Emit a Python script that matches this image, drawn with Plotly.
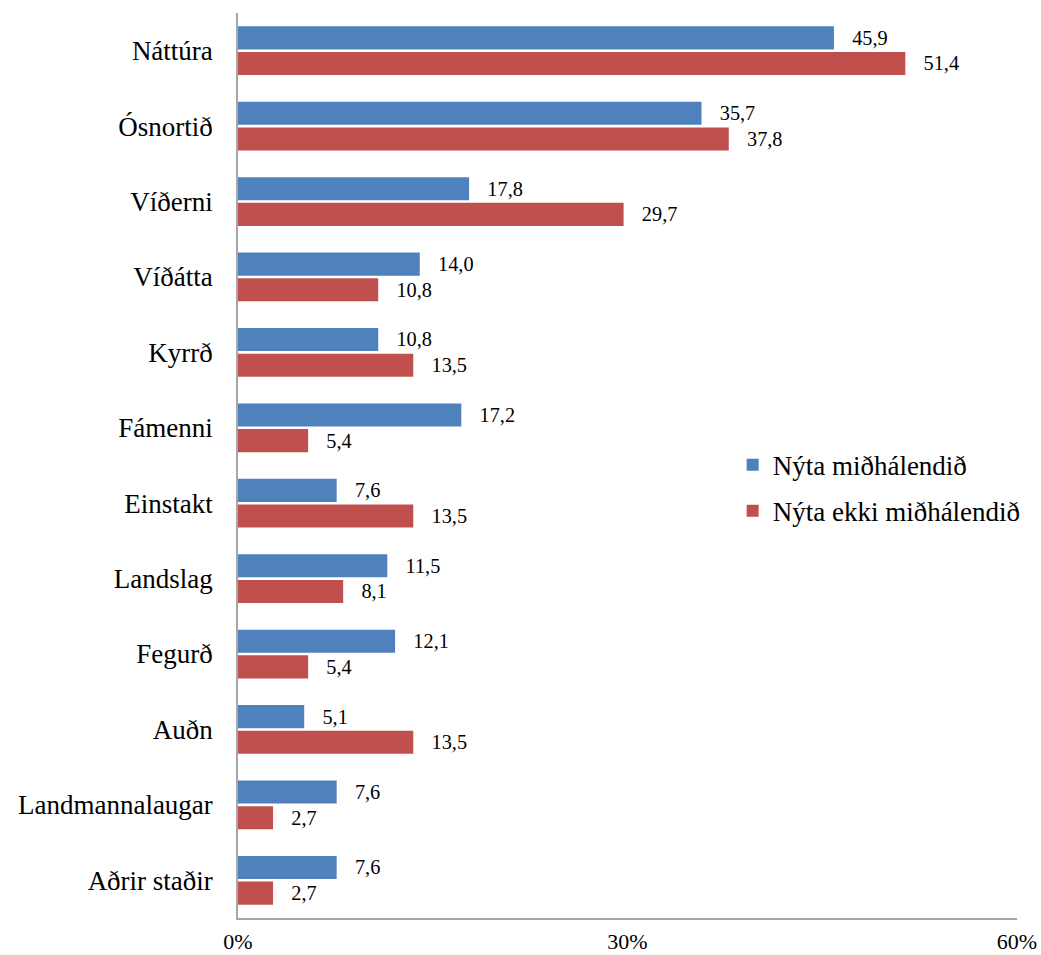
import plotly.graph_objects as go

categories = ["Náttúra", "Ósnortið", "Víðerni", "Víðátta", "Kyrrð", "Fámenni",
              "Einstakt", "Landslag", "Fegurð", "Auðn", "Landmannalaugar", "Aðrir staðir"]
nyta = [45.9, 35.7, 17.8, 14.0, 10.8, 17.2, 7.6, 11.5, 12.1, 5.1, 7.6, 7.6]
nyta_ekki = [51.4, 37.8, 29.7, 10.8, 13.5, 5.4, 13.5, 8.1, 5.4, 13.5, 2.7, 2.7]
series_names = ["Nýta miðhálendið", "Nýta ekki miðhálendið"]
colors = ["#4F81BD", "#C0504D"]
x_ticks = [0, 30, 60]
x_tick_labels = ["0%", "30%", "60%"]

FONT = "Liberation Serif"

def fmt(v):
    return "   " + f"{v:.1f}".replace(".", ",")

fig = go.Figure()
for i, (name, vals, col) in enumerate(zip(series_names, [nyta, nyta_ekki], colors)):
    fig.add_trace(go.Bar(
        y=categories, x=vals, orientation="h", name=name,
        legendgroup=f"g{i}",
        marker=dict(color=col, line=dict(width=0)),
        text=[fmt(v) for v in vals], textposition="outside",
        textfont=dict(family=FONT, size=22, color="#000000"),
        cliponaxis=False,
    ))

fig.update_layout(
    width=1041, height=955,
    paper_bgcolor="white", plot_bgcolor="white",
    barmode="group", bargap=0.32, bargroupgap=0.1,
    margin=dict(l=238, r=24, t=13, b=37, autoexpand=False),
    font=dict(family=FONT, size=22, color="#000000"),
    legend=dict(x=0.635, y=0.475, xanchor="left", yanchor="middle",
                font=dict(family=FONT, size=27), tracegroupgap=8,
                traceorder="grouped",
                bgcolor="rgba(0,0,0,0)"),
    xaxis=dict(range=[0, 60], tickvals=x_ticks, ticktext=x_tick_labels,
               showgrid=False, zeroline=False, showline=True, automargin=False,
               linecolor="#A6A6A6", linewidth=1.5, ticks="",
               tickfont=dict(family=FONT, size=22), ticklabelstandoff=3),
    yaxis=dict(autorange="reversed", showgrid=False, zeroline=False, automargin=False,
               showline=True, linecolor="#A6A6A6", linewidth=1.5, ticks="",
               tickfont=dict(family=FONT, size=27), ticklabelstandoff=18),
)

fig.write_html("out.html", config={"displayModeBar": False},
               post_script="document.body.style.margin='0';")
